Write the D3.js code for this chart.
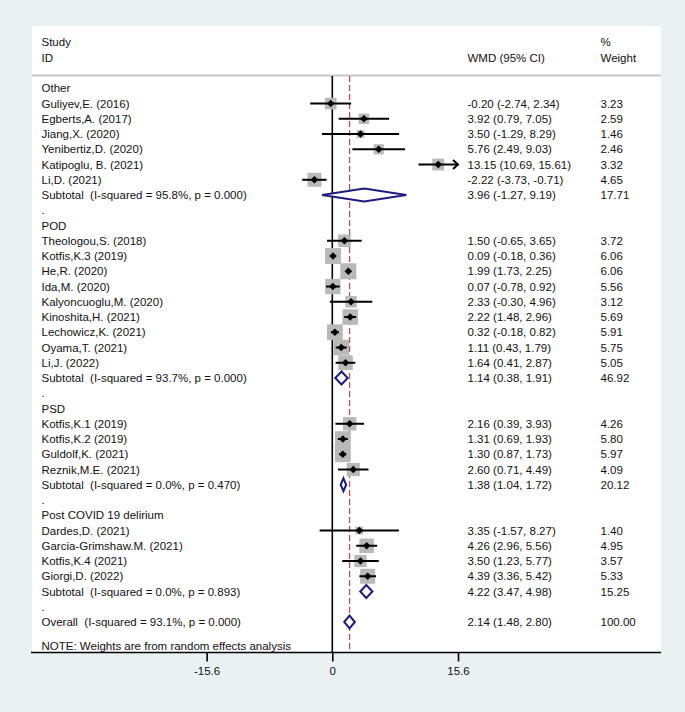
<!DOCTYPE html>
<html>
<head>
<meta charset="utf-8">
<script src="https://cdn.jsdelivr.net/npm/d3@7"></script>
<style>
  html, body { margin: 0; padding: 0; background: #e9f1f3; }
  svg { display: block; }
  text { font-family: "Liberation Sans", Arial, sans-serif; font-size: 11.5px; fill: #111; white-space: pre; }
</style>
</head>
<body>
<svg id="chart" width="685" height="712"></svg>
<script>
// ---- data ----
const labels = [
  "Other",
  "Guliyev,E. (2016)", "Egberts,A. (2017)", "Jiang,X. (2020)", "Yenibertiz,D. (2020)", "Katipoglu, B. (2021)", "Li,D. (2021)",
  "Subtotal  (I-squared = 95.8%, p = 0.000)",
  ".",
  "POD",
  "Theologou,S. (2018)", "Kotfis,K.3 (2019)", "He,R. (2020)", "Ida,M. (2020)", "Kalyoncuoglu,M. (2020)", "Kinoshita,H. (2021)", "Lechowicz,K. (2021)", "Oyama,T. (2021)", "Li,J. (2022)",
  "Subtotal  (I-squared = 93.7%, p = 0.000)",
  ".",
  "PSD",
  "Kotfis,K.1 (2019)", "Kotfis,K.2 (2019)", "Guldolf,K. (2021)", "Reznik,M.E. (2021)",
  "Subtotal  (I-squared = 0.0%, p = 0.470)",
  ".",
  "Post COVID 19 delirium",
  "Dardes,D. (2021)", "Garcia-Grimshaw.M. (2021)", "Kotfis,K.4 (2021)", "Giorgi,D. (2022)",
  "Subtotal  (I-squared = 0.0%, p = 0.893)",
  ".",
  "Overall  (I-squared = 93.1%, p = 0.000)"
];
// row type: h = heading, s = study, d = pooled diamond, b = blank
const rowTypes = ["h","s","s","s","s","s","s","d","b","h","s","s","s","s","s","s","s","s","s","d","b","h","s","s","s","s","d","b","h","s","s","s","s","d","b","d"];
const estimates = [null,-0.20,3.92,3.50,5.76,13.15,-2.22,3.96,null,null,1.50,0.09,1.99,0.07,2.33,2.22,0.32,1.11,1.64,1.14,null,null,2.16,1.31,1.30,2.60,1.38,null,null,3.35,4.26,3.50,4.39,4.22,null,2.14];
const lower     = [null,-2.74,0.79,-1.29,2.49,10.69,-3.73,-1.27,null,null,-0.65,-0.18,1.73,-0.78,-0.30,1.48,-0.18,0.43,0.41,0.38,null,null,0.39,0.69,0.87,0.71,1.04,null,null,-1.57,2.96,1.23,3.36,3.47,null,1.48];
const upper     = [null,2.34,7.05,8.29,9.03,15.61,-0.71,9.19,null,null,3.65,0.36,2.25,0.92,4.96,2.96,0.82,1.79,2.87,1.91,null,null,3.93,1.93,1.73,4.49,1.72,null,null,8.27,5.56,5.77,5.42,4.98,null,2.80];
const weights   = [null,3.23,2.59,1.46,2.46,3.32,4.65,17.71,null,null,3.72,6.06,6.06,5.56,3.12,5.69,5.91,5.75,5.05,46.92,null,null,4.26,5.80,5.97,4.09,20.12,null,null,1.40,4.95,3.57,5.33,15.25,null,100.00];
const tickValues = [-15.6, 0, 15.6];
const tickLabels = ["-15.6", "0", "15.6"];
const overallEstimate = 2.14;
const noteText = "NOTE: Weights are from random effects analysis";

// ---- layout ----
const svg = d3.select("#chart");
const panel = {left: 32, right: 661, top: 26, bottom: 652.5};
const x = d3.scaleLinear().domain([-15.6, 15.6]).range([206.6, 458]);
const y = d3.scaleLinear().domain([0, labels.length - 1]).range([88.3, 622]);
const boxSide = d3.scaleSqrt().domain([0, d3.max(rowTypes.map((t,i) => t === "s" ? weights[i] : 0))]).range([0, 16]);
const fmt2 = d3.format(".2f");
const fmt = v => fmt2(v).replace("\u2212", "-");
const colText = 41.5, colCI = 467.5, colW = 600.5;
const lineTop = 76;

svg.append("rect")
  .attr("x", panel.left).attr("y", panel.top)
  .attr("width", panel.right - panel.left).attr("height", panel.bottom - panel.top)
  .attr("fill", "#ffffff");

// header
svg.append("text").attr("x", colText).attr("y", 42.3).attr("dy", "0.35em").text("Study");
svg.append("text").attr("x", colText).attr("y", 57.7).attr("dy", "0.35em").text("ID");
svg.append("text").attr("x", colCI).attr("y", 57.7).attr("dy", "0.35em").text("WMD (95% CI)");
svg.append("text").attr("x", colW).attr("y", 42.3).attr("dy", "0.35em").text("%");
svg.append("text").attr("x", colW).attr("y", 57.7).attr("dy", "0.35em").text("Weight");

svg.append("line")
  .attr("x1", panel.left).attr("x2", panel.right)
  .attr("y1", 75.5).attr("y2", 75.5)
  .attr("stroke", "#c8c8c8").attr("stroke-width", 2);

// reference lines
svg.append("line")
  .attr("x1", x(0)).attr("x2", x(0)).attr("y1", lineTop).attr("y2", panel.bottom)
  .attr("stroke", "#000").attr("stroke-width", 1.6);
svg.append("line")
  .attr("x1", x(overallEstimate)).attr("x2", x(overallEstimate)).attr("y1", lineTop).attr("y2", panel.bottom)
  .attr("stroke", "#b3505e").attr("stroke-width", 1.3).attr("stroke-dasharray", "6,3");

const rows = labels.map((label, i) => ({
  label, type: rowTypes[i], est: estimates[i], lo: lower[i], hi: upper[i], w: weights[i], i
}));
const studies = rows.filter(r => r.type === "s");
const pooled = rows.filter(r => r.type === "d");

// weight boxes
svg.append("g").selectAll("rect").data(studies).join("rect")
  .attr("x", d => x(d.est) - boxSide(d.w) / 2)
  .attr("y", d => y(d.i) - boxSide(d.w) / 2)
  .attr("width", d => boxSide(d.w)).attr("height", d => boxSide(d.w))
  .attr("fill", "#b9b9b9");

// CI lines
const [dMin, dMax] = x.domain();
svg.append("g").selectAll("line").data(studies).join("line")
  .attr("x1", d => x(Math.max(d.lo, dMin))).attr("x2", d => x(Math.min(d.hi, dMax)))
  .attr("y1", d => y(d.i)).attr("y2", d => y(d.i))
  .attr("stroke", "#000").attr("stroke-width", 2);

// arrows for truncated CIs
svg.append("g").selectAll("path").data(studies.filter(d => d.hi > dMax)).join("path")
  .attr("d", d => { const ax = x(dMax), ay = y(d.i); return `M${ax-5},${ay-4.5}L${ax},${ay}L${ax-5},${ay+4.5}`; })
  .attr("fill", "none").attr("stroke", "#000").attr("stroke-width", 2);

// point markers
svg.append("g").selectAll("path").data(studies).join("path")
  .attr("d", d => { const cx = x(d.est), cy = y(d.i), s = 3.8; return `M${cx},${cy-s}L${cx+s},${cy}L${cx},${cy+s}L${cx-s},${cy}Z`; })
  .attr("fill", "#000");

// pooled diamonds
svg.append("g").selectAll("path").data(pooled).join("path")
  .attr("d", d => { const cy = y(d.i), h = 6.5; return `M${x(d.lo)},${cy}L${x(d.est)},${cy-h}L${x(d.hi)},${cy}L${x(d.est)},${cy+h}Z`; })
  .attr("fill", "#fff").attr("stroke", "#1c1c80").attr("stroke-width", 2);

// row texts
const tg = svg.append("g");
tg.selectAll("text.lab").data(rows).join("text").attr("class", "lab")
  .attr("x", colText).attr("y", d => y(d.i)).attr("dy", "0.35em")
  .text(d => d.label);
tg.selectAll("text.ci").data(rows.filter(r => r.est !== null)).join("text").attr("class", "ci")
  .attr("x", colCI).attr("y", d => y(d.i)).attr("dy", "0.35em")
  .text(d => `${fmt(d.est)} (${fmt(d.lo)}, ${fmt(d.hi)})`);
tg.selectAll("text.w").data(rows.filter(r => r.w !== null)).join("text").attr("class", "w")
  .attr("x", colW).attr("y", d => y(d.i)).attr("dy", "0.35em")
  .text(d => fmt(d.w));

svg.append("text").attr("x", colText).attr("y", 645.7).attr("dy", "0.35em").text(noteText);

// axis
svg.append("line")
  .attr("x1", panel.left - 1).attr("x2", panel.right).attr("y1", panel.bottom).attr("y2", panel.bottom)
  .attr("stroke", "#000").attr("stroke-width", 1.6);
const axis = d3.axisBottom(x).tickValues(tickValues).tickSize(9).tickPadding(5)
  .tickFormat((d, i) => tickLabels[i]);
const ag = svg.append("g").attr("transform", `translate(0,${panel.bottom})`).call(axis);
ag.select(".domain").remove();
ag.selectAll(".tick line").attr("stroke", "#000").attr("stroke-width", 1.6);
ag.selectAll(".tick text").attr("font-family", null).attr("font-size", null).style("font-size", "11.5px").attr("fill", "#111");
</script>
</body>
</html>
